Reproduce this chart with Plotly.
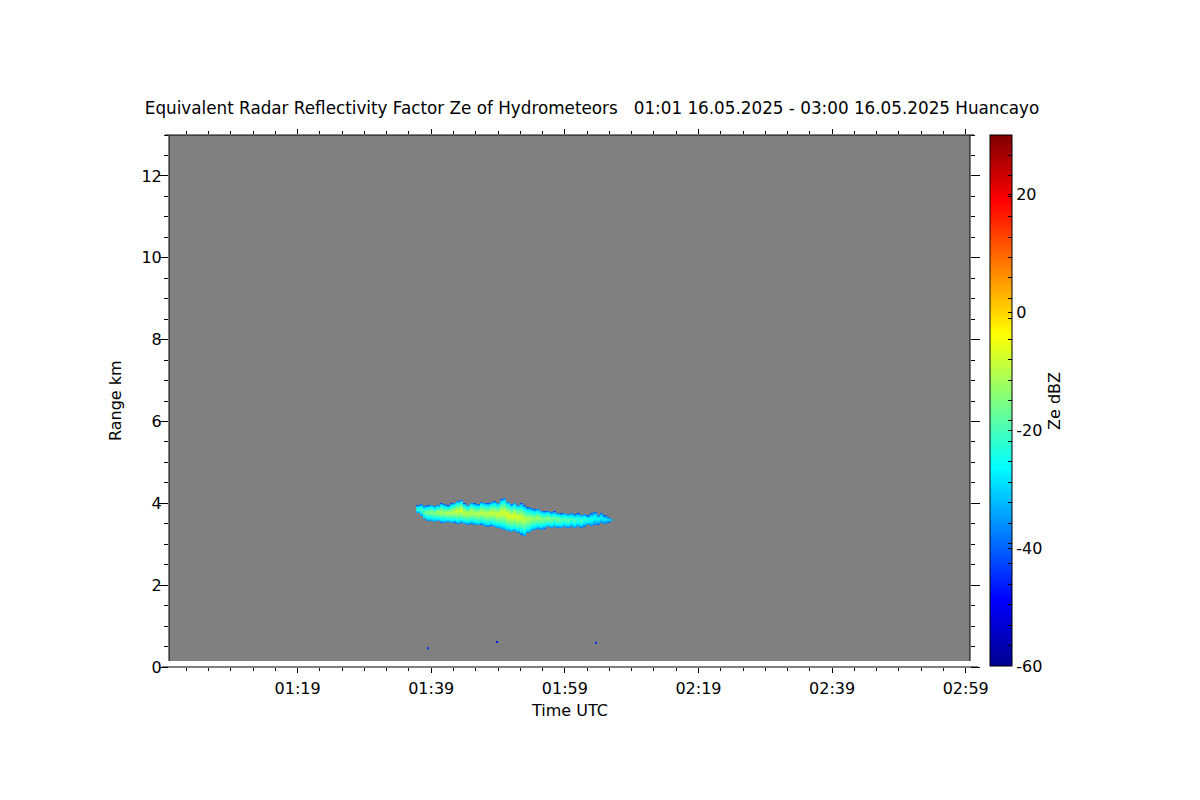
import numpy as np
import plotly.graph_objects as go

# ---------------- data ----------------
# time in minutes after 00:00 UTC, heights in km, reflectivity in dBZ
col_start_min = 97.0      # 01:37
col_step_min = 0.5
cloud_top_km = [3.95, 3.98, 3.93, 3.95, 3.97, 3.94, 3.96, 4.00, 3.98, 3.95,
                4.00, 4.02, 4.06, 4.08, 4.00, 3.97, 4.02, 4.00, 3.98, 4.03,
                4.02, 4.00, 4.03, 4.05, 4.02, 4.10, 4.13, 4.04, 3.98, 4.02,
                3.97, 4.00, 3.95, 3.90, 3.88, 3.85, 3.86, 3.82, 3.80, 3.81,
                3.78, 3.80, 3.76, 3.75, 3.77, 3.74, 3.76, 3.73, 3.75, 3.72,
                3.74, 3.70, 3.75, 3.78, 3.72, 3.76, 3.70, 3.66, 3.62]
cloud_base_km = [3.75, 3.68, 3.60, 3.56, 3.55, 3.53, 3.55, 3.52, 3.51, 3.53,
                 3.50, 3.52, 3.49, 3.51, 3.48, 3.47, 3.49, 3.46, 3.45, 3.47,
                 3.43, 3.42, 3.44, 3.40, 3.38, 3.36, 3.33, 3.30, 3.28, 3.30,
                 3.26, 3.22, 3.18, 3.25, 3.30, 3.33, 3.36, 3.34, 3.37, 3.40,
                 3.38, 3.40, 3.39, 3.38, 3.40, 3.39, 3.41, 3.38, 3.40, 3.39,
                 3.42, 3.45, 3.43, 3.46, 3.47, 3.50, 3.48, 3.52, 3.55]
cloud_peak_dbz = [-22, -20, -17, -15, -14, -15, -12, -11, -13, -10,
                  -11, -9, -8, -7, -9, -10, -9, -11, -10, -9,
                  -10, -9, -8, -9, -8, -7, -7, -6, -7, -6,
                  -7, -8, -9, -11, -12, -13, -12, -14, -15, -14,
                  -16, -17, -16, -18, -19, -18, -20, -19, -21, -20,
                  -22, -23, -24, -25, -26, -27, -28, -29, -31]
cloud_edge_dbz = -41

# isolated single-gate echoes near the ground
dot_time_min = [98.5, 108.85, 123.65]
dot_height_km = [0.46, 0.61, 0.59]
dot_dbz = [-45, -47, -45]

# axes
x_range_min = [59.75, 179.64]
x_tick_min = [79, 99, 119, 139, 159, 179]
x_tick_text = ["01:19", "01:39", "01:59", "02:19", "02:39", "02:59"]
y_range_km = [0, 13]
gate_first_km = 0.146
cb_tick_vals = [-60, -40, -20, 0, 20]
z_min, z_max = -60, 30

title_text = ("Equivalent Radar Reflectivity Factor Ze of Hydrometeors\u00a0\u00a0\u00a0"
              "01:01 16.05.2025 - 03:00 16.05.2025 Huancayo")

# ---------------- build the field ----------------
heights = np.arange(3.0, 4.3001, 0.025)
times = col_start_min + col_step_min * np.arange(len(cloud_top_km))
z = np.full((len(heights), len(times)), np.nan)
for j in range(len(times)):
    base, top, peak = cloud_base_km[j], cloud_top_km[j], cloud_peak_dbz[j]
    mask = (heights >= base) & (heights <= top)
    thick = top - base
    core = base + 0.55 * thick
    d = np.where(heights >= core, (top - heights) / (top - core),
                 (heights - base) / (core - base))
    w = np.clip(d, 0, 1) ** 0.6
    z[mask, j] = cloud_edge_dbz + (peak - cloud_edge_dbz) * w[mask]

jet = [[0.0, "#00008f"], [0.125, "#0000ff"], [0.375, "#00ffff"],
       [0.625, "#ffff00"], [0.875, "#ff0000"], [1.0, "#800000"]]

FONT = "DejaVu Sans"
FS = 16

fig = go.Figure()
fig.add_trace(go.Heatmap(x=times, y=heights, z=z, coloraxis="coloraxis",
                         zsmooth=False, hoverongaps=False))
fig.add_trace(go.Scatter(x=dot_time_min, y=dot_height_km, mode="markers",
                         marker=dict(symbol="square", size=2, color=dot_dbz,
                                     coloraxis="coloraxis", line=dict(width=0)),
                         showlegend=False))

# minor colorbar ticks (26 equal intervals)
cb_minor = [z_min + k * (z_max - z_min) / 26 for k in range(1, 26)]
cb_vals = cb_tick_vals + cb_minor
cb_text = [str(v) for v in cb_tick_vals] + [""] * len(cb_minor)

W, H = 1200, 800
L, R, T, B = 169, 230, 135, 133
pw, ph = W - L - R, H - T - B

fig.update_layout(
    width=W, height=H,
    margin=dict(l=L, r=R, t=T, b=B),
    paper_bgcolor="white", plot_bgcolor="white",
    font=dict(family=FONT, size=FS, color="black"),
    title=dict(text=title_text, x=592 / W, y=1 - 108 / H, xref="container",
               yref="container", xanchor="center", yanchor="middle",
               font=dict(family=FONT, size=16.8, color="black")),
    showlegend=False,
    coloraxis=dict(
        cmin=z_min, cmax=z_max, colorscale=jet,
        colorbar=dict(
            x=(990 - L) / pw, xanchor="left", xpad=0, ypad=0,
            y=1, yanchor="top", len=531, lenmode="pixels",
            thickness=22, thicknessmode="pixels",
            outlinewidth=1, outlinecolor="black",
            tickmode="array", tickvals=cb_vals, ticktext=cb_text,
            ticks="inside", ticklen=4, tickcolor="black",
            tickfont=dict(family=FONT, size=FS, color="black"),
        ),
    ),
    xaxis=dict(
        range=x_range_min, showgrid=False, zeroline=False,
        tickmode="array", tickvals=x_tick_min, ticktext=x_tick_text,
        ticks="outside", ticklen=5, tickcolor="black", mirror="ticks",
        showline=False, ticklabelstandoff=2,
        minor=dict(dtick=20 / 6, tick0=x_tick_min[0], ticks="outside",
                   ticklen=3, tickcolor="black", showgrid=False),
        tickfont=dict(family=FONT, size=FS, color="black"),
    ),
    yaxis=dict(
        range=y_range_km, showgrid=False, zeroline=False,
        tickmode="linear", tick0=0, dtick=2,
        ticks="outside", ticklen=9, tickcolor="black", mirror="ticks",
        showline=False, ticklabelstandoff=-6,
        minor=dict(dtick=0.5, ticks="outside", ticklen=4, tickcolor="black",
                   showgrid=False),
        tickfont=dict(family=FONT, size=FS, color="black"),
    ),
    shapes=[
        # grey "no signal" background of the radar range
        dict(type="rect", xref="x", yref="y", x0=x_range_min[0], x1=x_range_min[1],
             y0=gate_first_km, y1=y_range_km[1], fillcolor="#808080",
             line=dict(width=0), layer="below"),
        # frame lines
        dict(type="line", xref="paper", yref="paper", x0=(162 - L) / pw, x1=(978 - L) / pw,
             y0=0, y1=0, line=dict(color="black", width=1)),
        dict(type="line", xref="paper", yref="paper", x0=(165 - L) / pw, x1=(974 - L) / pw,
             y0=1, y1=1, line=dict(color="black", width=1)),
        dict(type="line", xref="paper", yref="paper", x0=0, x1=0,
             y0=(667 - 661) / ph, y1=1, line=dict(color="black", width=1)),
        dict(type="line", xref="paper", yref="paper", x0=1, x1=1,
             y0=(667 - 661) / ph, y1=1, line=dict(color="black", width=1)),
    ],
    annotations=[
        dict(text="Time UTC", xref="paper", yref="paper", x=0.5, y=-(710 - 667) / ph,
             xanchor="center", yanchor="middle", showarrow=False,
             font=dict(family=FONT, size=FS, color="black")),
        dict(text="Range km", xref="paper", yref="paper", x=(115 - L) / pw, y=0.5,
             xanchor="center", yanchor="middle", textangle=-90, showarrow=False,
             font=dict(family=FONT, size=FS, color="black")),
        dict(text="Ze dBZ", xref="paper", yref="paper", x=(1054 - L) / pw, y=0.5,
             xanchor="center", yanchor="middle", textangle=-90, showarrow=False,
             font=dict(family=FONT, size=FS, color="black")),
    ],
)

fig.write_html("out.html", config={"displayModeBar": False},
               post_script="document.body.style.margin='0';document.body.style.overflow='hidden';")
